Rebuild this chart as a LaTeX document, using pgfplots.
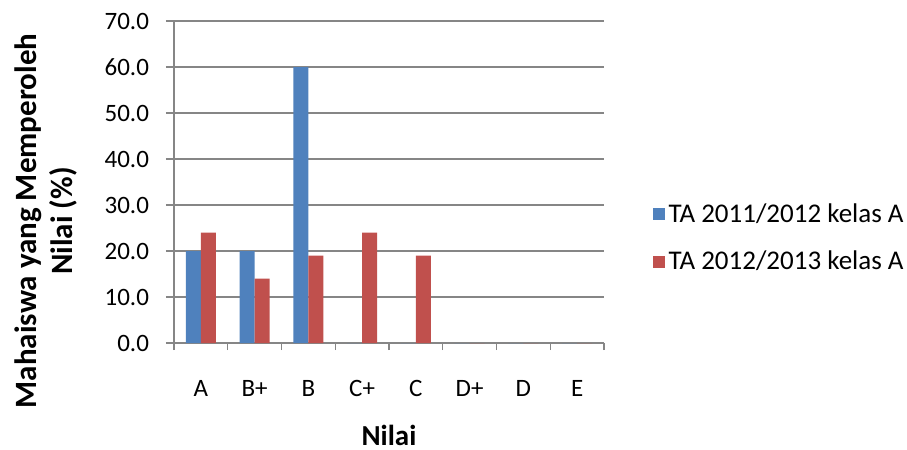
\documentclass[border=0pt]{standalone}
\usepackage{pgfplots}
\pgfplotsset{compat=1.18}
\usepackage{fontspec}
\setmainfont{Carlito}
\definecolor{sblue}{HTML}{4F81BD}
\definecolor{sred}{HTML}{C0504D}
\definecolor{gridgray}{HTML}{868686}
\begin{document}
\begin{tikzpicture}
\useasboundingbox (0,0) rectangle (453.5pt,225pt);
\begin{axis}[
  at={(87pt,53.5pt)}, anchor=south west,
  scale only axis, width=215pt, height=161pt,
  xmin=-0.5, xmax=7.5, ymin=0, ymax=70,
  axis lines=left, axis line style={-, gridgray, line width=0.7pt},
  ybar, ybar=0pt, bar width=7.5pt,
  xtick={0,...,7},
  xticklabels={A,B+,B,C+,C,D+,D,E},
  minor xtick={-0.5,0.5,...,7.5},
  ytick={0,10,...,70},
  ymajorgrids, grid style={gridgray, line width=0.7pt},
  tick align=outside,
  major tick length=4pt,
  minor tick length=3.5pt,
  x tick style={draw=none},
  minor x tick style={draw=gridgray, line width=0.7pt},
  y tick style={gridgray, line width=0.7pt},
  /pgf/number format/assume math mode=true,
  yticklabel={\pgfmathprintnumber[fixed,fixed zerofill,precision=1]{\tick}},
  tick label style={font=\fontsize{12.5}{15}\selectfont, text=black},
  yticklabel style={xshift=-5pt},
  xticklabel style={yshift=-11pt},
  xlabel={Nilai},
  xlabel style={at={(axis description cs:0.5,-0.286)}, anchor=center, font=\fontsize{14.5}{17}\selectfont\bfseries},
  ylabel={Mahaiswa yang Memperoleh\\Nilai (\%)},
  ylabel style={at={(axis description cs:-0.2977,0.379)}, anchor=center, align=center, font=\fontsize{15.5}{18}\selectfont\bfseries},
  legend style={at={(axis description cs:1.098,0.326)}, anchor=west, draw=none, fill=none,
    font=\fontsize{13.5}{16}\selectfont, row sep=9pt, legend cell align=left},
  legend image code/.code={\fill[#1] (0pt,-3pt) rectangle (6pt,3pt);},
]
\addplot[fill=sblue, draw=none] coordinates {(0,20) (1,20) (2,60) (3,0) (4,0) (5,0) (6,0) (7,0)};
\addplot[fill=sred, draw=none] coordinates {(0,24) (1,14) (2,19) (3,24) (4,19) (5,0) (6,0) (7,0)};
\legend{TA 2011/2012 kelas A, TA 2012/2013 kelas A}
\end{axis}
\end{tikzpicture}
\end{document}
